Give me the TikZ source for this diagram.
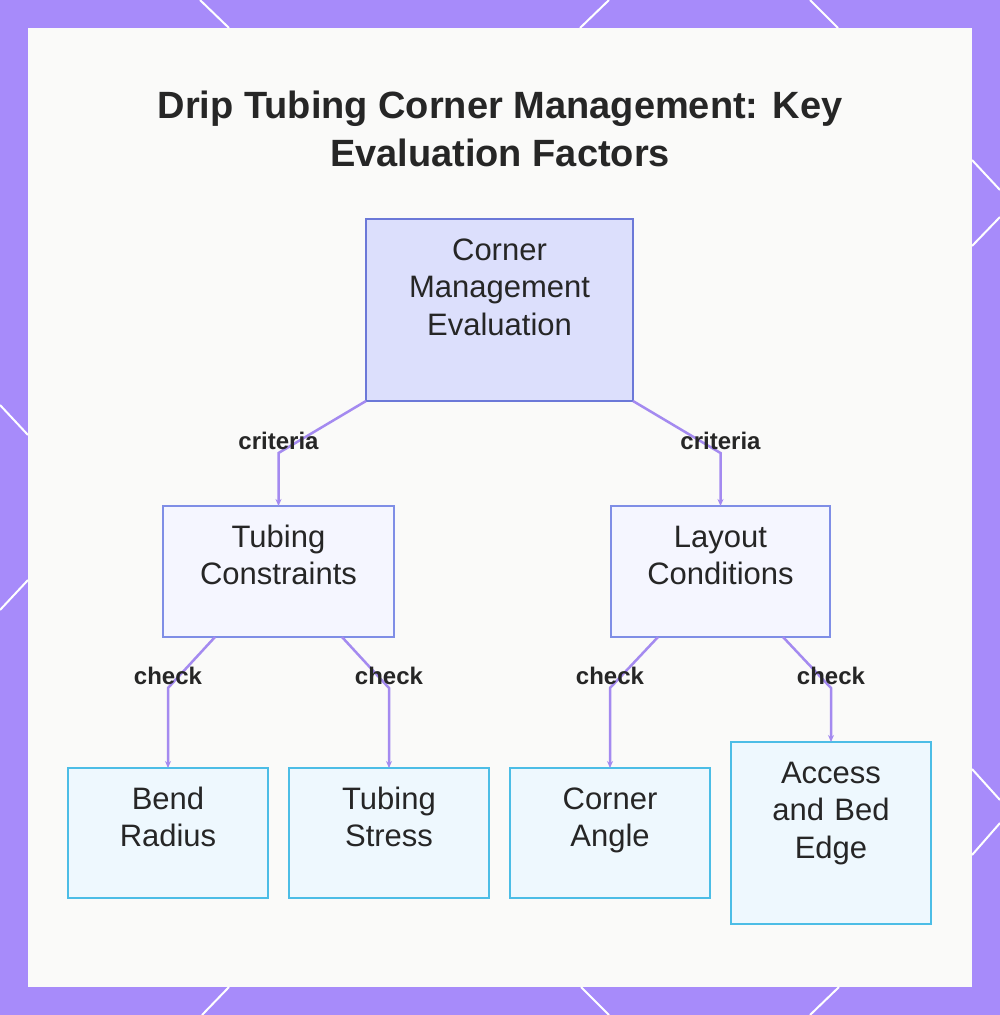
\documentclass[tikz,border=0pt]{standalone}
\usepackage{fontspec}
\setmainfont{Liberation Sans}
\usepackage{tikz}
\usetikzlibrary{arrows.meta,positioning}

\definecolor{frame}{HTML}{A78BFA}
\definecolor{paper}{HTML}{FAFAF9}
\definecolor{ink}{HTML}{262626}
\definecolor{rootfill}{HTML}{DCDFFC}
\definecolor{rootline}{HTML}{6B78D8}
\definecolor{midfill}{HTML}{F5F6FF}
\definecolor{midline}{HTML}{7F8EE6}
\definecolor{leaffill}{HTML}{EEF8FE}
\definecolor{leafline}{HTML}{4CBDE6}
\definecolor{link}{HTML}{A48AF0}

\begin{document}
\begin{tikzpicture}[
x=1pt, y=1pt,
box/.style={draw, rectangle, line width=2.5pt, inner sep=0pt, outer sep=0pt, align=center, text=ink,
  font=\fontsize{31}{37.5}\selectfont, text height=41pt},
rootbox/.style={box, fill=rootfill, draw=rootline, text width=267pt, text depth=141pt},
midbox/.style={box, fill=midfill, draw=midline, text width=231pt, text depth=90pt},
leafbox/.style={box, fill=leaffill, draw=leafline, text width=200pt, text depth=89pt},
tallbox/.style={leafbox, text depth=141pt},
arrow/.style={-{Stealth[length=7pt,width=6pt]}, line width=2.5pt, draw=link},
lbl/.style={font=\bfseries\fontsize{24}{28}\selectfont, text=ink, yshift=12pt},
title/.style={font=\bfseries\fontsize{38}{48}\selectfont, text=ink, align=center}
]

% frame and background
\fill[frame] (0,0) rectangle (1000,-1015);
\fill[paper] (28,-28) rectangle (972,-987);
\useasboundingbox (0,0) rectangle (1000,-1015);
\begin{scope}[white, line width=2pt]
\draw (200,0) -- (229,-28);
\draw (580,-28) -- (609,0);
\draw (810,0) -- (838,-28);
\draw (0,-405) -- (28,-435);
\draw (0,-610) -- (28,-580);
\draw (972,-160) -- (1000,-190);
\draw (1000,-217) -- (972,-246);
\draw (972,-769) -- (1000,-800);
\draw (1000,-823) -- (972,-855);
\draw (202,-1015) -- (229,-987);
\draw (581,-987) -- (609,-1015);
\draw (839,-987) -- (810,-1015);
\end{scope}

\node[title] (head) at (500,-129) {Drip Tubing Corner Management: Key\\Evaluation Factors};

\node[rootbox] (root) at (499.5,-310) {Corner\\Management\\Evaluation};

\node[midbox] (tubing) at (278.5,-571.5) {Tubing\\Constraints};
\node[midbox, text width=219pt, right=217pt of tubing] (layout) {Layout\\Conditions};

\node[leafbox] (bend) at (168,-833) {Bend\\Radius};
\node[leafbox, right=21pt of bend] (stress) {Tubing\\Stress};
\node[leafbox, right=21pt of stress] (angle) {Corner\\Angle};
\node[tallbox, right=21pt of angle] (access) {Access\\and Bed\\Edge};

% connectors
\draw[arrow] (root.south west) -- ([yshift=53pt]tubing.north) node[lbl] (critL) {criteria} -- (tubing.north);
\draw[arrow] (root.south east) -- ([yshift=53pt]layout.north) node[lbl] (critR) {criteria} -- (layout.north);

\draw[arrow] ([xshift=52pt]tubing.south west) -- ([yshift=80pt]bend.north) node[lbl] (chkA) {check} -- (bend.north);
\draw[arrow] ([xshift=-52pt]tubing.south east) -- ([yshift=80pt]stress.north) node[lbl] (chkB) {check} -- (stress.north);
\draw[arrow] ([xshift=47pt]layout.south west) -- ([yshift=80pt]angle.north) node[lbl] (chkC) {check} -- (angle.north);
\draw[arrow] ([xshift=-47pt]layout.south east) -- ([yshift=54pt]access.north) node[lbl] (chkD) {check} -- (access.north);

\end{tikzpicture}
\end{document}
